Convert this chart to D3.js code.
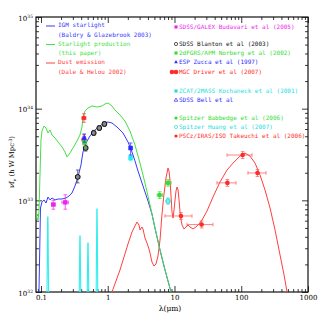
<!DOCTYPE html>
<html><head><meta charset="utf-8">
<script src="https://cdn.jsdelivr.net/npm/d3@7"></script>
<style>body{margin:0;background:#fff}</style>
</head><body>
<script>
// ---- data (lambda in micron, nu f_nu in h W Mpc^-3) ----
const igmLambda = [0.0933,0.0983,0.1035,0.111,0.119,0.1274,0.1365,0.1463,0.162,0.180,0.2065,0.237,0.2627,0.2913,0.323,0.3583,0.3975,0.4257,0.4722,0.542,0.644,0.765,0.879,1.009,1.158,1.376,1.692,2.011,2.308,2.559,2.839,3.373,4.01,4.60,5.10,6.07,7.21,8.87];
const igmValue = [1.0e32,8.25e32,9.6e32,1.01e33,9.35e32,1.087e33,1.01e33,1.06e33,1.01e33,1.034e33,1.034e33,1.06e33,1.115e33,1.202e33,1.433e33,1.797e33,2.43e33,3.37e33,4.22e33,5.03e33,5.85e33,6.47e33,6.98e33,7.15e33,6.98e33,6.31e33,5.43e33,4.33e33,3.37e33,2.69e33,2.09e33,1.433e33,9.84e32,7.10e32,4.99e32,2.87e32,1.738e32,1.0e32];

const starLambda = [0.0842,0.0871,0.0902,0.0933,0.0966,0.100,0.1035,0.111,0.119,0.1274,0.1365,0.1463,0.162,0.180,0.2065,0.229,0.245,0.272,0.3015,0.346,0.384,0.4113,0.4257,0.456,0.506,0.581,0.690,0.820,0.909,1.009,1.158,1.284,1.526,1.813,2.154,2.559,3.042,3.614,4.30,5.10,6.07,7.21,8.87];
const starValue = [7.84e32,6.41e32,6.10e32,7.46e32,1.89e33,4.55e33,5.70e33,6.47e33,6.15e33,5.43e33,5.85e33,5.16e33,4.79e33,4.33e33,3.82e33,3.37e33,2.97e33,3.28e33,3.72e33,4.44e33,5.16e33,6.31e33,8.11e33,9.43e33,1.017e34,1.069e34,1.042e34,1.069e34,1.124e34,1.153e34,1.069e34,9.67e33,8.53e33,7.33e33,5.70e33,4.02e33,2.55e33,1.545e33,8.89e32,4.99e32,2.87e32,1.738e32,1.0e32];

const dustLambda = [1.158,1.329,1.526,1.752,2.011,2.308,2.559,2.743,2.939,3.042,3.260,3.373,3.614,3.873,4.15,4.30,4.60,4.93,5.28,5.66,6.07,6.50,6.96,7.46,7.99,8.27,8.56,8.87,9.18,9.50,9.84,10.19,10.54,10.92,11.30,11.70,12.11,12.54,12.98,13.90,14.89,15.93,17.07,18.93,20.99,23.28,25.82,30.69,37.74,48.06,61.2,75.3,95.8,113.8,135.3,160.8,191.1,227.1,270.0,320.9,381.4,437.7,485.6];
const dustValue = [1.0e32,1.318e32,1.738e32,2.41e32,3.34e32,4.51e32,5.25e32,5.80e32,5.38e32,4.75e32,5.12e32,4.87e32,3.88e32,3.42e32,2.94e32,2.66e32,2.12e32,1.92e32,2.02e32,2.47e32,3.69e32,7.10e32,1.172e33,1.752e33,2.25e33,2.09e33,1.667e33,1.115e33,7.46e32,6.41e32,7.84e32,1.01e33,1.265e33,1.398e33,1.297e33,1.01e33,7.46e32,6.10e32,5.38e32,4.87e32,5.12e32,5.38e32,5.12e32,4.87e32,5.12e32,5.52e32,6.10e32,7.65e32,1.087e33,1.585e33,2.14e33,2.55e33,3.04e33,3.28e33,3.04e33,2.55e33,1.89e33,1.297e33,8.25e32,4.75e32,2.53e32,1.532e32,1.0e32];

// cyan line: narrow emission spikes rising from below the plot floor
const lineLambda = [0.1265,0.384,0.506,0.690];
const lineValue = [6.58e32,4.08e32,3.42e32,8.04e32];
const lineFloor = 8e31;

// data points
const galexLambda=[0.153,0.231], galexValue=[9.0e32,9.5e32], galexLo=[8.0e32,8.0e32], galexHi=[1.0e33,1.15e33], galexLamLo=[0.144,0.206], galexLamHi=[0.163,0.257];
const blantonLambda=[0.355,0.467,0.616,0.747,0.892], blantonValue=[1.80e33,3.72e33,5.43e33,6.15e33,6.81e33], blantonLo=[1.55e33,3.45e33,5.1e33,5.8e33,6.4e33], blantonHi=[2.14e33,4.0e33,5.8e33,6.5e33,7.2e33], blantonLamLo=[0.33,0.435,0.575,0.70,0.835], blantonLamHi=[0.38,0.50,0.66,0.80,0.955];
const norbergLambda=[0.45], norbergValue=[4.3e33], norbergLo=[3.9e33], norbergHi=[4.7e33], norbergLamLo=[0.43], norbergLamHi=[0.47];
const driverLambda=[0.44,0.44], driverValue=[7.9e33,4.6e33], driverLo=[7.1e33,4.1e33], driverHi=[8.8e33,5.2e33], driverLamLo=[0.41,0.41], driverLamHi=[0.47,0.47];
const zuccaLambda=[0.445], zuccaValue=[4.8e33], zuccaLo=[4.3e33], zuccaHi=[5.3e33], zuccaLamLo=[0.425], zuccaLamHi=[0.465];
const kochanekLambda=[2.2], kochanekValue=[2.9e33], kochanekLo=[2.7e33], kochanekHi=[3.1e33], kochanekLamLo=[2.1], kochanekLamHi=[2.3];
const bellLambda=[2.2], bellValue=[3.72e33], bellLo=[3.12e33], bellHi=[4.22e33], bellLamLo=[2.1], bellLamHi=[2.3];
const babbedgeLambda=[6.0,8.0], babbedgeValue=[1.14e33,1.55e33], babbedgeLo=[1.05e33,1.43e33], babbedgeHi=[1.24e33,1.68e33], babbedgeLamLo=[5.5,7.3], babbedgeLamHi=[6.6,8.9];
const huangLambda=[8.0], huangValue=[9.8e32], huangLo=[9.1e32], huangHi=[1.06e33], huangLamLo=[7.6], huangLamHi=[8.4];
const takeuchiLambda=[12.5,25.5,62,105,175], takeuchiValue=[6.75e32,5.44e32,1.55e33,3.12e33,1.99e33], takeuchiLo=[6.2e32,5.0e32,1.42e33,2.86e33,1.82e33], takeuchiHi=[7.35e32,5.95e32,1.69e33,3.4e33,2.17e33], takeuchiLamLo=[7.2,15.4,43.3,61.3,126], takeuchiLamHi=[18.3,37.7,83.4,145,235];

const xMajor=[0.1,1,10,100,1000];
const yMajor=[1e32,1e33,1e34,1e35];
const yExp=["32","33","34","35"];

// ---- drawing ----
const W=327,H=327;
const svg=d3.select("body").append("svg").attr("width",W).attr("height",H);
const x=d3.scaleLog().domain([0.0842,1000]).range([36,308]);
const y=d3.scaleLog().domain([1e32,1e35]).range([292,17]);
const [x0,x1]=x.range(), [y0,y1]=y.range();

svg.append("clipPath").attr("id","clip").append("rect").attr("x",x0).attr("y",y1).attr("width",x1-x0).attr("height",y0-y1);

const minorX=[]; [0.01,0.1,1,10,100].forEach(d=>{for(let k=2;k<10;k++){const v=d*k; if(v>=x.domain()[0]&&v<=1000) minorX.push(v);}});
const minorY=[]; [1e32,1e33,1e34].forEach(d=>{for(let k=2;k<10;k++) minorY.push(d*k);});

const axisColor="#222";
function styleAxis(g){g.select(".domain").remove(); g.selectAll(".tick line").attr("stroke",axisColor).attr("stroke-width",0.9);}
svg.append("g").attr("transform",`translate(0,${y0})`).call(d3.axisBottom(x).tickValues(minorX).tickSize(-3).tickFormat("")).call(styleAxis);
svg.append("g").attr("transform",`translate(0,${y1})`).call(d3.axisTop(x).tickValues(minorX).tickSize(-3).tickFormat("")).call(styleAxis);
svg.append("g").attr("transform",`translate(0,${y1})`).call(d3.axisTop(x).tickValues(xMajor).tickSize(-6).tickFormat("")).call(styleAxis);
const bx=svg.append("g").attr("transform",`translate(0,${y0})`).call(d3.axisBottom(x).tickValues(xMajor).tickSize(-6).tickPadding(3).tickFormat(d=>String(d))).call(styleAxis);
bx.selectAll("text").attr("font-family","DejaVu Serif").attr("font-size","7px").attr("fill","#000");
svg.append("g").attr("transform",`translate(${x0},0)`).call(d3.axisLeft(y).tickValues(minorY).tickSize(-3).tickFormat("")).call(styleAxis);
svg.append("g").attr("transform",`translate(${x1},0)`).call(d3.axisRight(y).tickValues(minorY).tickSize(-3).tickFormat("")).call(styleAxis);
svg.append("g").attr("transform",`translate(${x1},0)`).call(d3.axisRight(y).tickValues(yMajor).tickSize(-6).tickFormat("")).call(styleAxis);
const ly=svg.append("g").attr("transform",`translate(${x0},0)`).call(d3.axisLeft(y).tickValues(yMajor).tickSize(-6).tickFormat("")).call(styleAxis);
ly.selectAll(".tick").append("text").attr("x",-3).attr("dy","0.32em").attr("text-anchor","end")
  .attr("font-family","DejaVu Serif").attr("fill","#000")
  .each(function(d,i){const t=d3.select(this);
    t.append("tspan").attr("font-size","7px").text("10");
    t.append("tspan").attr("font-size","4.5px").attr("dy","-3").text(yExp[yMajor.indexOf(d)]);});

// frame
svg.append("rect").attr("x",x0).attr("y",y1).attr("width",x1-x0).attr("height",y0-y1).attr("fill","none").attr("stroke","#111").attr("stroke-width",1.2);

const plot=svg.append("g").attr("clip-path","url(#clip)");
const line=d3.line().x(d=>x(d[0])).y(d=>y(d[1]));

// cyan spikes
lineLambda.forEach((l,i)=>{
  const pts=[[l/1.03,lineFloor],[l/1.006,lineValue[i]],[l*1.006,lineValue[i]],[l*1.03,lineFloor]];
  plot.append("path").attr("d",line(pts)).attr("fill","none").attr("stroke","#33eeee").attr("stroke-width",1.1);
});

const zip=(a,b)=>a.map((v,i)=>[v,b[i]]);
plot.append("path").attr("d",line(zip(dustLambda,dustValue))).attr("fill","none").attr("stroke","#ff4040").attr("stroke-width",1);
plot.append("path").attr("d",line(zip(igmLambda,igmValue))).attr("fill","none").attr("stroke","#3a3aff").attr("stroke-width",1);
plot.append("path").attr("d",line(zip(starLambda,starValue))).attr("fill","none").attr("stroke","#44e044").attr("stroke-width",1);

// error bars + markers
function marker(g,type,color,cx,cy){
  const s=2.2;
  if(type==="sq") g.append("rect").attr("x",cx-s).attr("y",cy-s).attr("width",2*s).attr("height",2*s).attr("fill",color);
  else if(type==="circ") g.append("circle").attr("cx",cx).attr("cy",cy).attr("r",2.3).attr("fill",color);
  else if(type==="ocirc") g.append("circle").attr("cx",cx).attr("cy",cy).attr("r",2.3).attr("fill","none").attr("stroke",color).attr("stroke-width",1);
  else if(type==="bcirc") g.append("circle").attr("cx",cx).attr("cy",cy).attr("r",2.4).attr("fill","#888").attr("stroke",color).attr("stroke-width",1);
  else if(type==="tri") g.append("path").attr("d",`M${cx},${cy-2.8}L${cx+2.6},${cy+1.8}L${cx-2.6},${cy+1.8}Z`).attr("fill",color);
  else if(type==="otri") g.append("path").attr("d",`M${cx},${cy-2.8}L${cx+2.6},${cy+1.8}L${cx-2.6},${cy+1.8}Z`).attr("fill","none").attr("stroke",color);
}
function points(lam,val,lo,hi,llo,lhi,color,type,barColor){
  const g=plot.append("g");
  lam.forEach((l,i)=>{
    const cx=x(l),cy=y(val[i]);
    const bc=barColor||color;
    const e=g.append("g").attr("stroke",bc).attr("stroke-width",0.9).attr("opacity",0.8);
    e.append("line").attr("x1",cx).attr("x2",cx).attr("y1",y(lo[i])).attr("y2",y(hi[i]));
    e.append("line").attr("x1",cx-1.8).attr("x2",cx+1.8).attr("y1",y(lo[i])).attr("y2",y(lo[i]));
    e.append("line").attr("x1",cx-1.8).attr("x2",cx+1.8).attr("y1",y(hi[i])).attr("y2",y(hi[i]));
    e.append("line").attr("x1",x(llo[i])).attr("x2",x(lhi[i])).attr("y1",cy).attr("y2",cy);
    e.append("line").attr("x1",x(llo[i])).attr("x2",x(llo[i])).attr("y1",cy-1.8).attr("y2",cy+1.8);
    e.append("line").attr("x1",x(lhi[i])).attr("x2",x(lhi[i])).attr("y1",cy-1.8).attr("y2",cy+1.8);
    marker(g,type,color,cx,cy);
  });
}
points(galexLambda,galexValue,galexLo,galexHi,galexLamLo,galexLamHi,"#ee22ee","sq");
points(blantonLambda,blantonValue,blantonLo,blantonHi,blantonLamLo,blantonLamHi,"#111","bcirc","#333");
points(driverLambda,driverValue,driverLo,driverHi,driverLamLo,driverLamHi,"#ff2a2a","circ");
points(norbergLambda,norbergValue,norbergLo,norbergHi,norbergLamLo,norbergLamHi,"#33dd33","sq");
points(zuccaLambda,zuccaValue,zuccaLo,zuccaHi,zuccaLamLo,zuccaLamHi,"#2a2aff","tri");
points(kochanekLambda,kochanekValue,kochanekLo,kochanekHi,kochanekLamLo,kochanekLamHi,"#22eeee","sq");
points(bellLambda,bellValue,bellLo,bellHi,bellLamLo,bellLamHi,"#2a2aff","sq");
points(babbedgeLambda,babbedgeValue,babbedgeLo,babbedgeHi,babbedgeLamLo,babbedgeLamHi,"#33dd33","circ");
points(huangLambda,huangValue,huangLo,huangHi,huangLamLo,huangLamHi,"#22dddd","ocirc");
points(takeuchiLambda,takeuchiValue,takeuchiLo,takeuchiHi,takeuchiLamLo,takeuchiLamHi,"#ff2a2a","circ","#ff5555");

// ---- legends ----
const lf="DejaVu Sans Mono", ls="6.0px";
const leftLegend=[
  {c:"#3a3aff",t1:"IGM starlight",t2:"(Baldry & Glazebrook 2003)",y:25},
  {c:"#44e044",t1:"Starlight production",t2:"(this paper)",y:43.5},
  {c:"#ff4040",t1:"Dust emission",t2:"(Dale & Helou 2002)",y:62}];
leftLegend.forEach(d=>{
  svg.append("line").attr("x1",46).attr("x2",55).attr("y1",d.y+1).attr("y2",d.y+1).attr("stroke",d.c).attr("stroke-width",1);
  svg.append("text").attr("x",58).attr("y",d.y+2.2).attr("font-family",lf).attr("font-size",ls).attr("fill",d.c).text(d.t1);
  svg.append("text").attr("x",58).attr("y",d.y+11.5).attr("font-family",lf).attr("font-size",ls).attr("fill",d.c).text(d.t2);
});
const rightLegend=[
  {c:"#ee22ee",t:"SDSS/GALEX Budavari et al (2005)",y:27,m:"sq"},
  {c:"#111",t:"SDSS Blanton et al (2003)",y:44,m:"ocirc"},
  {c:"#33dd33",t:"2dFGRS/APM Norberg et al (2002)",y:53,m:"sq"},
  {c:"#2a2aff",t:"ESP Zucca et al (1997)",y:62,m:"tri"},
  {c:"#ff2a2a",t:"MGC Driver et al (2007)",y:72,m:"circ2"},
  {c:"#22dddd",t:"ZCAT/2MASS Kochaneck et al (2001)",y:91,m:"sq"},
  {c:"#2a2aff",t:"SDSS Bell et al",y:100,m:"otri"},
  {c:"#33dd33",t:"Spitzer Babbedge et al (2006)",y:118,m:"circ"},
  {c:"#22dddd",t:"Spitzer Huang et al (2007)",y:127,m:"ocirc"},
  {c:"#ff2a2a",t:"PSCz/IRAS/ISO Takeuchi et al (2006)",y:136,m:"circ"}];
const lg=svg.append("g");
rightLegend.forEach(d=>{
  if(d.m==="circ2"){marker(lg,"circ",d.c,172,d.y); marker(lg,"circ",d.c,176,d.y);}
  else{const mg=lg.append("g").attr("transform",`translate(176,${d.y}) scale(0.7) translate(-176,${-d.y})`); marker(mg,d.m,d.c,176,d.y);}
  lg.append("text").attr("x",179).attr("y",d.y+2.2).attr("font-family",lf).attr("font-size",ls).attr("fill",d.c).text(d.t);
});

// axis titles
svg.append("text").attr("x",170).attr("y",311).attr("text-anchor","middle").attr("font-family","DejaVu Serif").attr("font-size","7.5px").attr("fill","#000")
  .text("λ(μm)");
const yt=svg.append("text").attr("transform","translate(14,162) rotate(-90)").attr("text-anchor","middle").attr("font-family","DejaVu Serif").attr("font-size","6.8px").attr("fill","#000");
yt.append("tspan").text("νf");
yt.append("tspan").attr("font-size","4.5px").attr("dy","1.5").text("ν");
yt.append("tspan").attr("dy","-1.5").text(" (h W Mpc");
yt.append("tspan").attr("font-size","4.5px").attr("dy","-2.5").text("-3");
yt.append("tspan").attr("dy","2.5").text(")");
</script>
</body></html>
